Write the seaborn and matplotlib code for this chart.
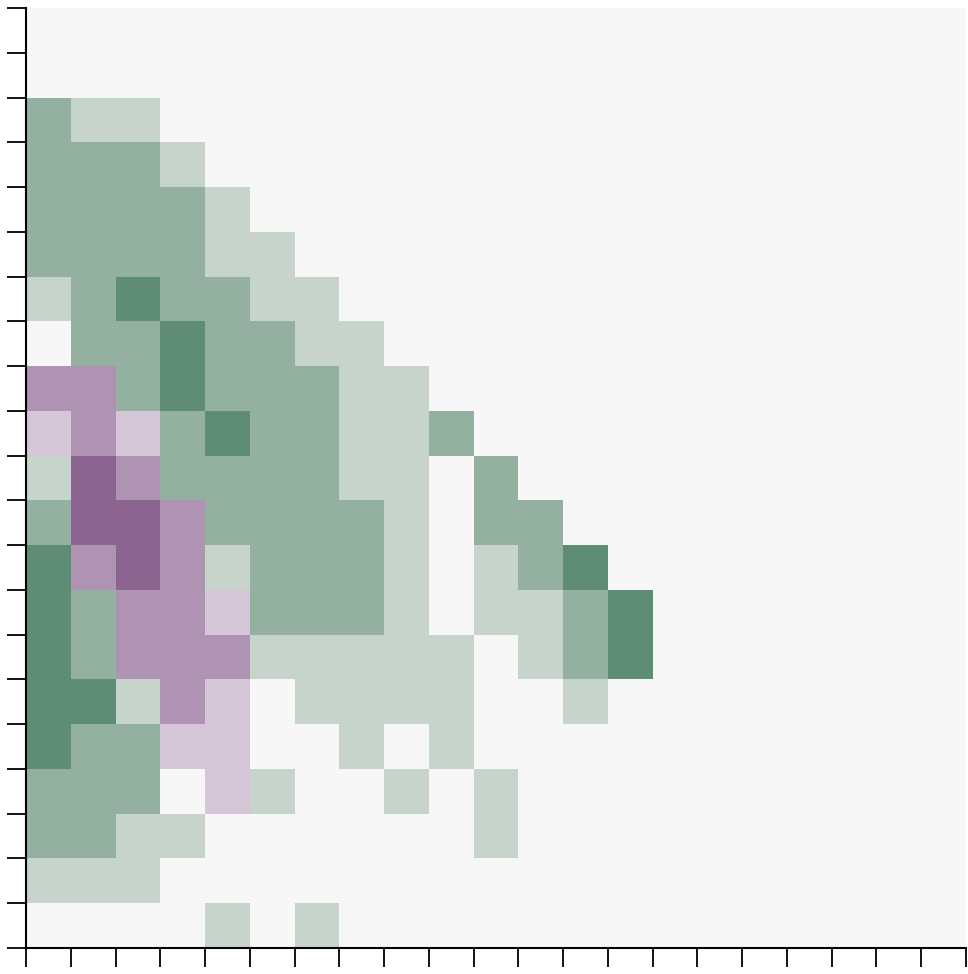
import numpy as np
import matplotlib
matplotlib.use("Agg")
import matplotlib.pyplot as plt
import seaborn as sns

# discrete levels: -3 (dark purple) .. 0 (neutral) .. 3 (dark green)
palette = ["#8b6590", "#ae93b2", "#d4c6d6", "#f7f7f7", "#c7d4cb", "#94b0a0", "#5f8c74"]

n_cols = 21
# each row listed left to right, trailing cells are 0
rows = [
    [],
    [],
    [2, 1, 1],
    [2, 2, 2, 1],
    [2, 2, 2, 2, 1],
    [2, 2, 2, 2, 1, 1],
    [1, 2, 3, 2, 2, 1, 1],
    [0, 2, 2, 3, 2, 2, 1, 1],
    [-2, -2, 2, 3, 2, 2, 2, 1, 1],
    [-1, -2, -1, 2, 3, 2, 2, 1, 1, 2],
    [1, -3, -2, 2, 2, 2, 2, 1, 1, 0, 2],
    [2, -3, -3, -2, 2, 2, 2, 2, 1, 0, 2, 2],
    [3, -2, -3, -2, 1, 2, 2, 2, 1, 0, 1, 2, 3],
    [3, 2, -2, -2, -1, 2, 2, 2, 1, 0, 1, 1, 2, 3],
    [3, 2, -2, -2, -2, 1, 1, 1, 1, 1, 0, 1, 2, 3],
    [3, 3, 1, -2, -1, 0, 1, 1, 1, 1, 0, 0, 1],
    [3, 2, 2, -1, -1, 0, 0, 1, 0, 1],
    [2, 2, 2, 0, -1, 1, 0, 0, 1, 0, 1],
    [2, 2, 1, 1, 0, 0, 0, 0, 0, 0, 1],
    [1, 1, 1],
    [0, 0, 0, 0, 1, 0, 1],
]

grid = np.zeros((len(rows), n_cols), dtype=int)
for i, r in enumerate(rows):
    grid[i, :len(r)] = r

fig = plt.figure(figsize=(9.68, 9.74), dpi=100)
ax = fig.add_axes([26 / 968, 26 / 974, 940 / 968, 940 / 974])

sns.heatmap(grid, cmap=palette, vmin=-3.5, vmax=3.5, cbar=False,
            square=False, linewidths=0, ax=ax)

ax.set_xticks(np.arange(n_cols + 1))
ax.set_yticks(np.arange(len(rows) + 1))
ax.set_xticklabels([])
ax.set_yticklabels([])
ax.tick_params(length=14, width=1.3, color="black")
ax.set_xlabel("")
ax.set_ylabel("")

for side in ["top", "right"]:
    ax.spines[side].set_visible(False)
for side in ["left", "bottom"]:
    ax.spines[side].set_visible(True)
    ax.spines[side].set_color("black")
    ax.spines[side].set_linewidth(1.5)

fig.savefig("out.png", dpi=100, facecolor="white")
